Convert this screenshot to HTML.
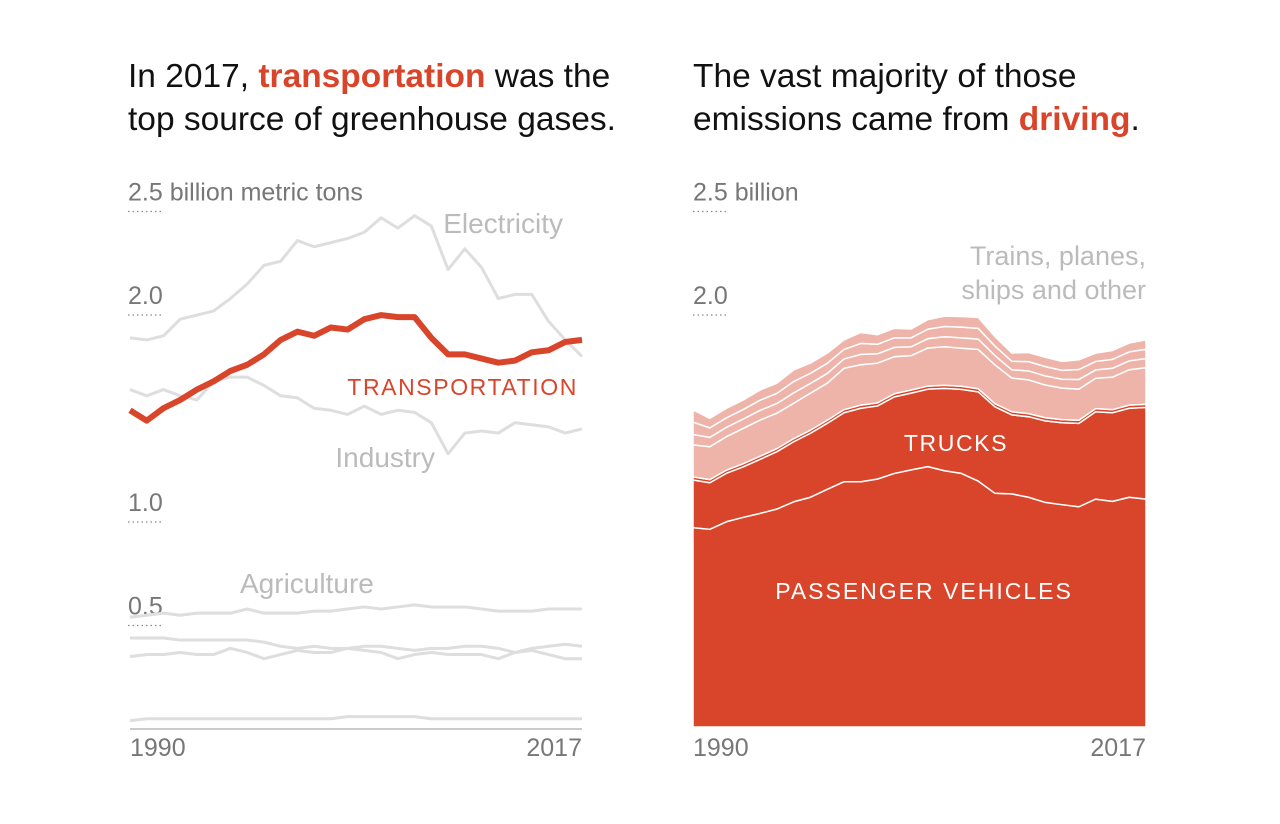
<!DOCTYPE html>
<html><head><meta charset="utf-8"><style>
body{margin:0;background:#fff;}
svg{display:block;font-family:"Liberation Sans",sans-serif;}
</style></head><body>
<svg id="c" width="1280" height="824" viewBox="0 0 1280 824">
<text x="128" y="87" font-size="33.5" fill="#111">In 2017, <tspan font-weight="bold" fill="#d9452a">transportation</tspan> was the</text>
<text x="128" y="130" font-size="33.5" fill="#111">top source of greenhouse gases.</text>
<text x="693" y="87" font-size="33.5" fill="#111">The vast majority of those</text>
<text x="693" y="130" font-size="33.5" fill="#111">emissions came from <tspan font-weight="bold" fill="#d9452a">driving</tspan>.</text>
<g id="left"></g>
<g id="right"></g>
</svg>
<script>
const years=[1990,1991,1992,1993,1994,1995,1996,1997,1998,1999,2000,2001,2002,2003,2004,2005,2006,2007,2008,2009,2010,2011,2012,2013,2014,2015,2016,2017];
const transportation=[1.53,1.48,1.54,1.58,1.63,1.67,1.72,1.75,1.80,1.87,1.91,1.89,1.93,1.92,1.97,1.99,1.98,1.98,1.88,1.80,1.80,1.78,1.76,1.77,1.81,1.82,1.86,1.87];
const electricity=[1.88,1.87,1.89,1.97,1.99,2.01,2.07,2.14,2.23,2.25,2.35,2.32,2.34,2.36,2.39,2.46,2.41,2.47,2.42,2.21,2.31,2.22,2.07,2.09,2.09,1.96,1.87,1.79];
const industry=[1.63,1.60,1.63,1.60,1.58,1.67,1.69,1.69,1.65,1.60,1.59,1.54,1.53,1.51,1.55,1.51,1.53,1.52,1.47,1.32,1.42,1.43,1.42,1.47,1.46,1.45,1.42,1.44];
const agriculture=[0.53,0.54,0.55,0.54,0.55,0.55,0.55,0.57,0.55,0.55,0.55,0.56,0.56,0.57,0.58,0.57,0.58,0.59,0.58,0.58,0.58,0.57,0.56,0.56,0.56,0.57,0.57,0.57];
const commercial=[0.43,0.43,0.43,0.42,0.42,0.42,0.42,0.42,0.41,0.39,0.38,0.39,0.38,0.38,0.39,0.39,0.38,0.37,0.38,0.38,0.39,0.39,0.38,0.36,0.38,0.39,0.40,0.39];
const residential=[0.34,0.35,0.35,0.36,0.35,0.35,0.38,0.36,0.33,0.35,0.37,0.36,0.36,0.38,0.37,0.36,0.33,0.35,0.36,0.35,0.35,0.35,0.33,0.36,0.37,0.35,0.33,0.33];
const territories=[0.03,0.04,0.04,0.04,0.04,0.04,0.04,0.04,0.04,0.04,0.04,0.04,0.04,0.05,0.05,0.05,0.05,0.05,0.04,0.04,0.04,0.04,0.04,0.04,0.04,0.04,0.04,0.04];
const passenger=[0.963,0.955,0.992,1.013,1.032,1.053,1.088,1.110,1.148,1.185,1.185,1.198,1.225,1.242,1.258,1.238,1.225,1.188,1.129,1.126,1.110,1.085,1.074,1.064,1.101,1.090,1.110,1.101];
const trucks=[0.230,0.225,0.234,0.244,0.261,0.277,0.290,0.309,0.319,0.333,0.355,0.353,0.370,0.371,0.374,0.398,0.406,0.431,0.418,0.382,0.389,0.394,0.396,0.403,0.422,0.428,0.430,0.443];
const buses=[0.015,0.015,0.015,0.015,0.015,0.015,0.015,0.015,0.015,0.015,0.015,0.015,0.015,0.015,0.015,0.015,0.015,0.015,0.015,0.015,0.015,0.015,0.015,0.015,0.015,0.015,0.015,0.015];
const otherMain=[0.155,0.159,0.162,0.171,0.175,0.171,0.171,0.179,0.179,0.200,0.195,0.192,0.179,0.166,0.184,0.186,0.184,0.190,0.187,0.163,0.163,0.158,0.152,0.150,0.147,0.157,0.171,0.177];
const rail=[0.05,0.045,0.045,0.045,0.047,0.047,0.05,0.047,0.047,0.045,0.05,0.045,0.045,0.043,0.045,0.048,0.05,0.05,0.045,0.04,0.043,0.044,0.043,0.047,0.04,0.043,0.043,0.044];
const air=[0.06,0.046,0.046,0.046,0.049,0.049,0.055,0.049,0.049,0.046,0.053,0.046,0.046,0.043,0.046,0.05,0.052,0.052,0.046,0.041,0.045,0.045,0.043,0.048,0.041,0.043,0.043,0.045];
const ships=[0.059,0.046,0.046,0.046,0.049,0.049,0.056,0.049,0.049,0.046,0.053,0.046,0.046,0.043,0.046,0.05,0.051,0.053,0.046,0.04,0.044,0.045,0.043,0.047,0.04,0.043,0.043,0.045];
const yTicks=[2.5,2.0,1.0,0.5];

const NS="http://www.w3.org/2000/svg";
function el(tag,attrs,parent){const e=document.createElementNS(NS,tag);for(const k in attrs)e.setAttribute(k,attrs[k]);parent.appendChild(e);return e;}
const yS=v=>727-v*207;
const xL=i=>130+i*(452/(years.length-1));
const xR=i=>693+i*(453/(years.length-1));
const L=document.getElementById('left'),R=document.getElementById('right');

function ticks(g,x0,first){
  yTicks.forEach(t=>{
    const s=t.toFixed(1);
    const tx=el('text',{x:x0,y:yS(t)-9,'font-size':25,fill:'#777'},g);
    tx.textContent=(t===2.5)?s+first:s;
    
    
    const ln=el('line',{x1:x0,x2:x0+34,y1:yS(t)+2,y2:yS(t)+2,stroke:'#888','stroke-width':1.2,'stroke-dasharray':'1.5,3'},g);
    
    
  });
}
function xlabels(g,x0,x1){
  const a=el('text',{x:x0,y:756,'font-size':25,fill:'#777'},g);a.textContent=years[0];
  
  
  const b=el('text',{x:x1,y:756,'font-size':25,fill:'#777','text-anchor':'end'},g);b.textContent=years[years.length-1];
  
  
}
// left
ticks(L,128,' billion metric tons');
const ax=el('line',{x1:130,x2:582,y1:729,y2:729,stroke:'#999','stroke-width':1},L);


xlabels(L,130,582);
function line(arr,color,w,name){
  const p=el('polyline',{points:arr.map((v,i)=>xL(i)+','+yS(v)).join(' '),fill:'none',stroke:color,'stroke-width':w,'stroke-linejoin':'round'},L);
  
  
}
[[electricity,'electricity-line'],[industry,'industry-line'],[agriculture,'agriculture-line'],[commercial,'commercial-line'],[residential,'residential-line'],[territories,'territories-line']].forEach(([a,n])=>line(a,'#dedede',3,n));
line(transportation,'#d9452a',6,'transportation-line');
function lab(g,x,y,txt,col,sz,anchor,ls,name){const t=el('text',{x:x,y:y,'font-size':sz,fill:col,'text-anchor':anchor||'start','letter-spacing':ls||0},g);t.textContent=txt;
  
  }
lab(L,563,233,'Electricity','#bbb',28,'end',0,'electricity-label');
lab(L,578,395,'TRANSPORTATION','#d9452a',23,'end',1.6,'transportation-label');
lab(L,435,467,'Industry','#bbb',28,'end',0,'industry-label');
lab(L,240,593,'Agriculture','#bbb',28,'start',0,'agriculture-label');
// right
ticks(R,693,' billion');
xlabels(R,693,1146);
const layers=[[passenger,'#d9452a','passenger-vehicles-area'],[trucks,'#d9452a','trucks-area'],[buses,'#d9452a','buses-area'],[otherMain,'#eeb4aa','other-area'],[rail,'#eeb4aa','rail-area'],[air,'#eeb4aa','air-area'],[ships,'#eeb4aa','ships-area']];
let base=years.map(()=>0);
layers.forEach(([arr,col,name])=>{
  const top=base.map((b,i)=>b+arr[i]);
  const pts=top.map((v,i)=>xR(i)+','+yS(v)).concat(base.map((v,i)=>xR(i)+','+yS(v)).reverse());
  const p=el('polygon',{points:pts.join(' '),fill:col,stroke:'#fff','stroke-width':1.5,'stroke-linejoin':'round'},R);
  
  
  base=top;
});
lab(R,1146,265,'Trains, planes,','#bbb',27,'end',0,'other-label-line1');
lab(R,1146,299,'ships and other','#bbb',27,'end',0,'other-label-line2');
lab(R,956,451,'TRUCKS','#fff',23,'middle',1.6,'trucks-label');
lab(R,924,599,'PASSENGER VEHICLES','#fff',23,'middle',2,'passenger-vehicles-label');
</script>
</body></html>
